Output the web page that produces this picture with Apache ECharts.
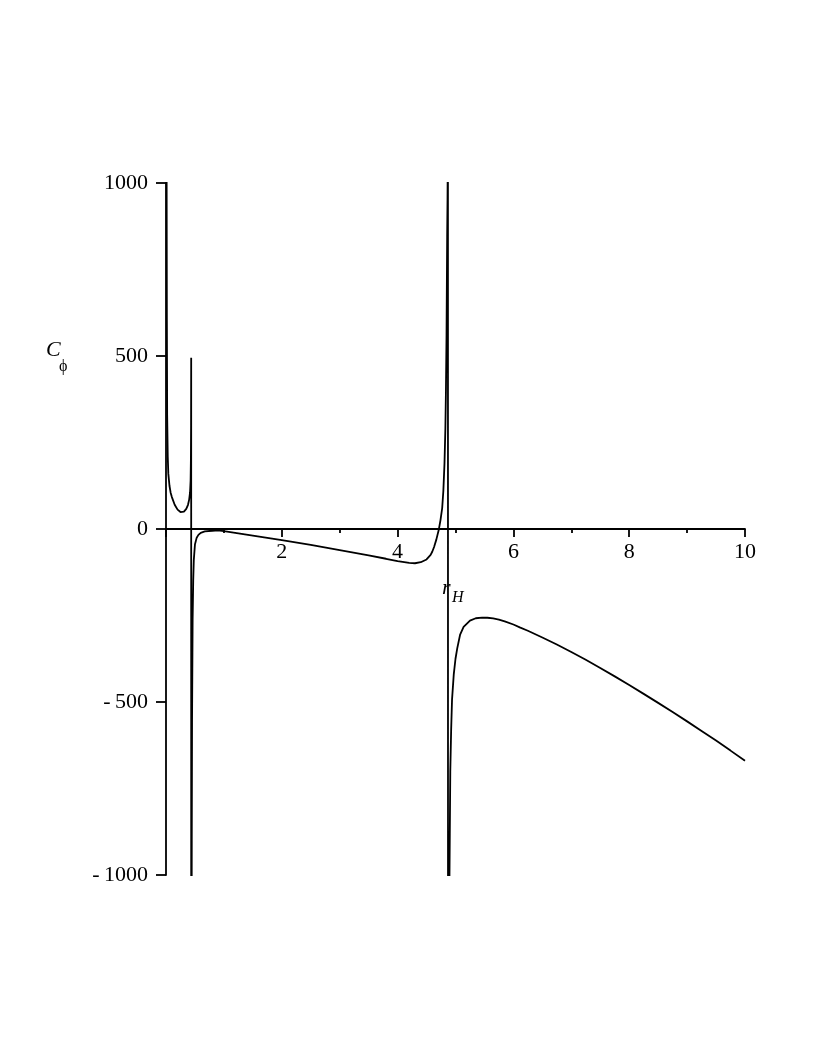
<!DOCTYPE html>
<html>
<head>
<meta charset="utf-8">
<script src="https://cdn.jsdelivr.net/npm/echarts@6/dist/echarts.min.js"></script>
<style>
html,body{margin:0;padding:0;background:#fff;}
#chart{width:817px;height:1058px;}
</style>
</head>
<body>
<div id="chart"></div>
<script>
var rH = [0.005,0.01,0.015,0.02,0.03,0.04,0.06,0.08,0.1,0.15,0.2,0.25,0.28,0.31,0.35,0.38,0.4,0.415,0.425,0.43,0.433,0.435,
  0.436,0.44,0.445,0.45,0.46,0.47,0.48,0.5,0.53,0.56,0.6,0.67,0.8,0.9,1.0,1.5,2.0,2.5,3.0,3.5,3.8,4.0,4.2,4.3,4.4,4.5,4.57,4.6,4.63,4.67,4.71,4.74,4.77,4.79,4.81,4.825,4.835,4.845,4.856,4.862,4.866,4.868,
  4.872,4.885,4.896,4.91,4.925,4.94,4.97,5.0,5.03,5.08,5.14,5.25,5.35,5.46,5.55,5.65,5.75,5.85,6.0,6.12,6.25,6.5,6.75,7.0,7.25,7.5,7.75,8.0,8.25,8.5,8.75,9.0,9.25,9.5,9.75,10.0];
var Cphi = [2500,1100,600,330,210,160,125,105,93,70,56,49,48,50,58,70,85,105,140,200,300,495,
  -3000,-1500,-900,-550,-260,-150,-90,-45,-25,-17,-11,-7,-5,-4,-6,-19,-32,-46,-61,-76,-86,-93,-98,-99,-96,-88,-75,-65,-52,-30,-3,25,60,110,190,290,400,560,845,950,1060,3000,
  -3000,-1600,-1000,-700,-580,-494,-420,-375,-345,-305,-283,-265,-258,-256,-256.5,-258.5,-262,-267,-276,-285,-294,-313.5,-334,-355.5,-378,-401.5,-426,-451,-476.5,-502.5,-529,-556,-583.5,-611.5,-640.5,-670];
var xTicks = [0,2,4,6,8,10];
var yTicks = [-1000,-500,0,500,1000];

var serif = '"Liberation Serif","Times New Roman",serif';
var data = rH.map(function(x,i){return [x, Cphi[i]];});

var gridTop = 183, gridBottom = 183, H = 1058;
var plotH = H - gridTop - gridBottom;
var yMin = yTicks[0], yMax = yTicks[yTicks.length-1];
// shift x axis up so it sits on the C=0 line, labels included
var zeroOffset = -plotH * (0 - yMin) / (yMax - yMin);

var chart = echarts.init(document.getElementById('chart'));
chart.setOption({
  animation:false,
  backgroundColor:'#fff',
  grid:{left:166,right:72,top:gridTop,bottom:gridBottom,containLabel:false},
  xAxis:{
    type:'value', min:xTicks[0], max:xTicks[xTicks.length-1], interval:2,
    position:'bottom', offset:zeroOffset,
    axisLine:{onZero:false,lineStyle:{color:'#000',width:1.8}},
    axisTick:{show:true,inside:false,length:8,lineStyle:{color:'#000',width:1.8}},
    minorTick:{show:true,splitNumber:2,length:4,lineStyle:{color:'#000',width:1.8}},
    splitLine:{show:false},
    axisLabel:{color:'#000',fontFamily:serif,fontSize:22,margin:12,
      formatter:function(v){return v===0?'':String(v);}}
  },
  yAxis:{
    type:'value', min:yMin, max:yMax, interval:500,
    axisLine:{onZero:false,lineStyle:{color:'#000',width:1.8}},
    axisTick:{show:true,inside:false,length:10,lineStyle:{color:'#000',width:1.8}},
    splitLine:{show:false},
    axisLabel:{color:'#000',fontFamily:serif,fontSize:22,margin:18,
      formatter:function(v){return v<0?'-\u2009'+Math.abs(v):String(v);}}
  },
  graphic:[
    {type:'text',left:46,top:339,style:{text:'C',font:'italic 22px '+serif,fill:'#000'}},
    {type:'text',left:59,top:359,style:{text:'\u03d5',font:'16px '+serif,fill:'#000'}},
    {type:'text',left:442,top:577,style:{text:'r',font:'italic 22px '+serif,fill:'#000'}},
    {type:'text',left:452,top:590,style:{text:'H',font:'italic 16px '+serif,fill:'#000'}}
  ],
  series:[{
    type:'line', data:data, showSymbol:false, smooth:false, clip:true,
    lineStyle:{color:'#000',width:1.8}
  }]
});
</script>
</body>
</html>
